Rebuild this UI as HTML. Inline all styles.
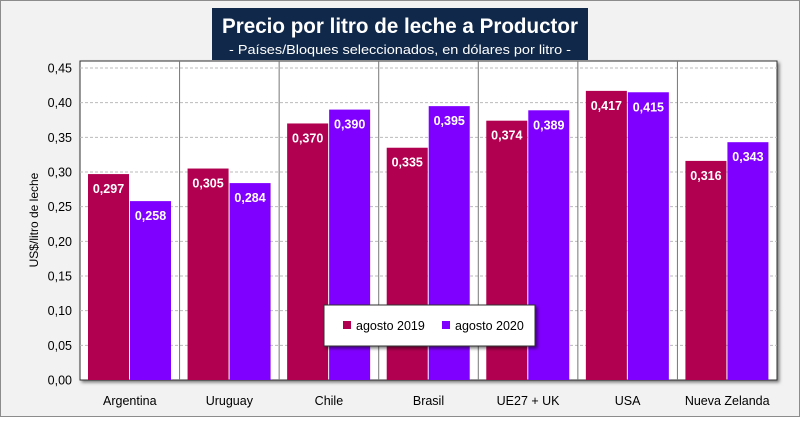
<!DOCTYPE html>
<html><head><meta charset="utf-8"><style>
body{margin:0;background:#fff;}
svg text{font-family:"Liberation Sans",sans-serif;}
</style></head><body>
<svg width="800" height="417" viewBox="0 0 800 417" xmlns="http://www.w3.org/2000/svg">
<defs><filter id="sh" x="-10%" y="-10%" width="130%" height="130%"><feDropShadow dx="2" dy="2" stdDeviation="1.5" flood-color="#000" flood-opacity="0.5"/></filter></defs>
<rect x="0.5" y="0.5" width="799" height="416" fill="#f2f2f2" stroke="#8c8c8c"/>
<rect x="80" y="61" width="697" height="319" fill="#fff" stroke="#333" filter="url(#sh)"/>
<g id="grid"></g>
<g id="bars"></g>
<g id="axes"></g>
<rect x="212" y="8" width="376" height="52" fill="#10284a"/>
<text x="400" y="33" text-anchor="middle" fill="#fff" font-size="21" font-weight="bold" textLength="356" lengthAdjust="spacingAndGlyphs">Precio por litro de leche a Productor</text>
<text x="400" y="54" text-anchor="middle" fill="#fff" font-size="13" textLength="342" lengthAdjust="spacingAndGlyphs">- Países/Bloques seleccionados, en dólares por litro -</text>
<text transform="translate(38,220) rotate(-90)" text-anchor="middle" font-size="12" fill="#000">US$/litro de leche</text>
<g>
<rect x="324" y="305" width="211" height="41" fill="#fff" stroke="#333" filter="url(#sh)"/>
<rect x="343" y="321" width="8" height="8" fill="#b0004f"/>
<text x="356" y="330" font-size="12.5">agosto 2019</text>
<rect x="442" y="321" width="8" height="8" fill="#8000ff"/>
<text x="455" y="330" font-size="12.5">agosto 2020</text>
</g>
</svg>
<script>
const categories=["Argentina","Uruguay","Chile","Brasil","UE27 + UK","USA","Nueva Zelanda"];
const values2019=[0.297,0.305,0.370,0.335,0.374,0.417,0.316];
const values2020=[0.258,0.284,0.390,0.395,0.389,0.415,0.343];
const yTicks=[0,0.05,0.10,0.15,0.20,0.25,0.30,0.35,0.40,0.45];
const NS="http://www.w3.org/2000/svg";
const X0=80,X1=777,Y0=380,YTOP=68,YMAX=0.45;
const cw=(X1-X0)/categories.length;
function y(v){return Y0-(v/YMAX)*(Y0-YTOP);}
function xc(i){return X0+i*cw;}
function mk(t,a,p){const e=document.createElementNS(NS,t);for(const k in a)e.setAttribute(k,a[k]);p.appendChild(e);return e;}
const grid=document.getElementById('grid'),bars=document.getElementById('bars'),axes=document.getElementById('axes');
yTicks.forEach(t=>{
 if(t>0){const l=mk('line',{x1:X0,x2:X1,y1:y(t),y2:y(t),stroke:'#bbb','stroke-dasharray':'3,2'},grid);
 
 }
 const tx=mk('text',{x:72,y:y(t)+4.5,'text-anchor':'end','font-size':'12.5'},axes);
 tx.textContent=t.toFixed(2).replace('.',',');
 
 
});
categories.forEach((c,i)=>{
 if(i>0){const s=mk('line',{x1:xc(i),x2:xc(i),y1:61,y2:Y0,stroke:'#777'},grid);
 
 }
 [[values2019,'#b0004f',8,'bar-2019'],[values2020,'#8000ff',50,'bar-2020']].forEach(([arr,col,off,nm])=>{
  const v=arr[i];
  const r=mk('rect',{x:xc(i)+off,y:y(v),width:41,height:Y0-y(v),fill:col},bars);
  
  
  const lb=mk('text',{x:xc(i)+off+20.5,y:y(v)+19,'text-anchor':'middle','font-size':'12.5','font-weight':'bold',fill:'#fff'},bars);
  lb.textContent=v.toFixed(3).replace('.',',');
  
  
 });
 const ct=mk('text',{x:xc(i)+cw/2,y:405,'text-anchor':'middle','font-size':'12.5'},axes);
 ct.textContent=c;
 
 
});
</script>
</body></html>
